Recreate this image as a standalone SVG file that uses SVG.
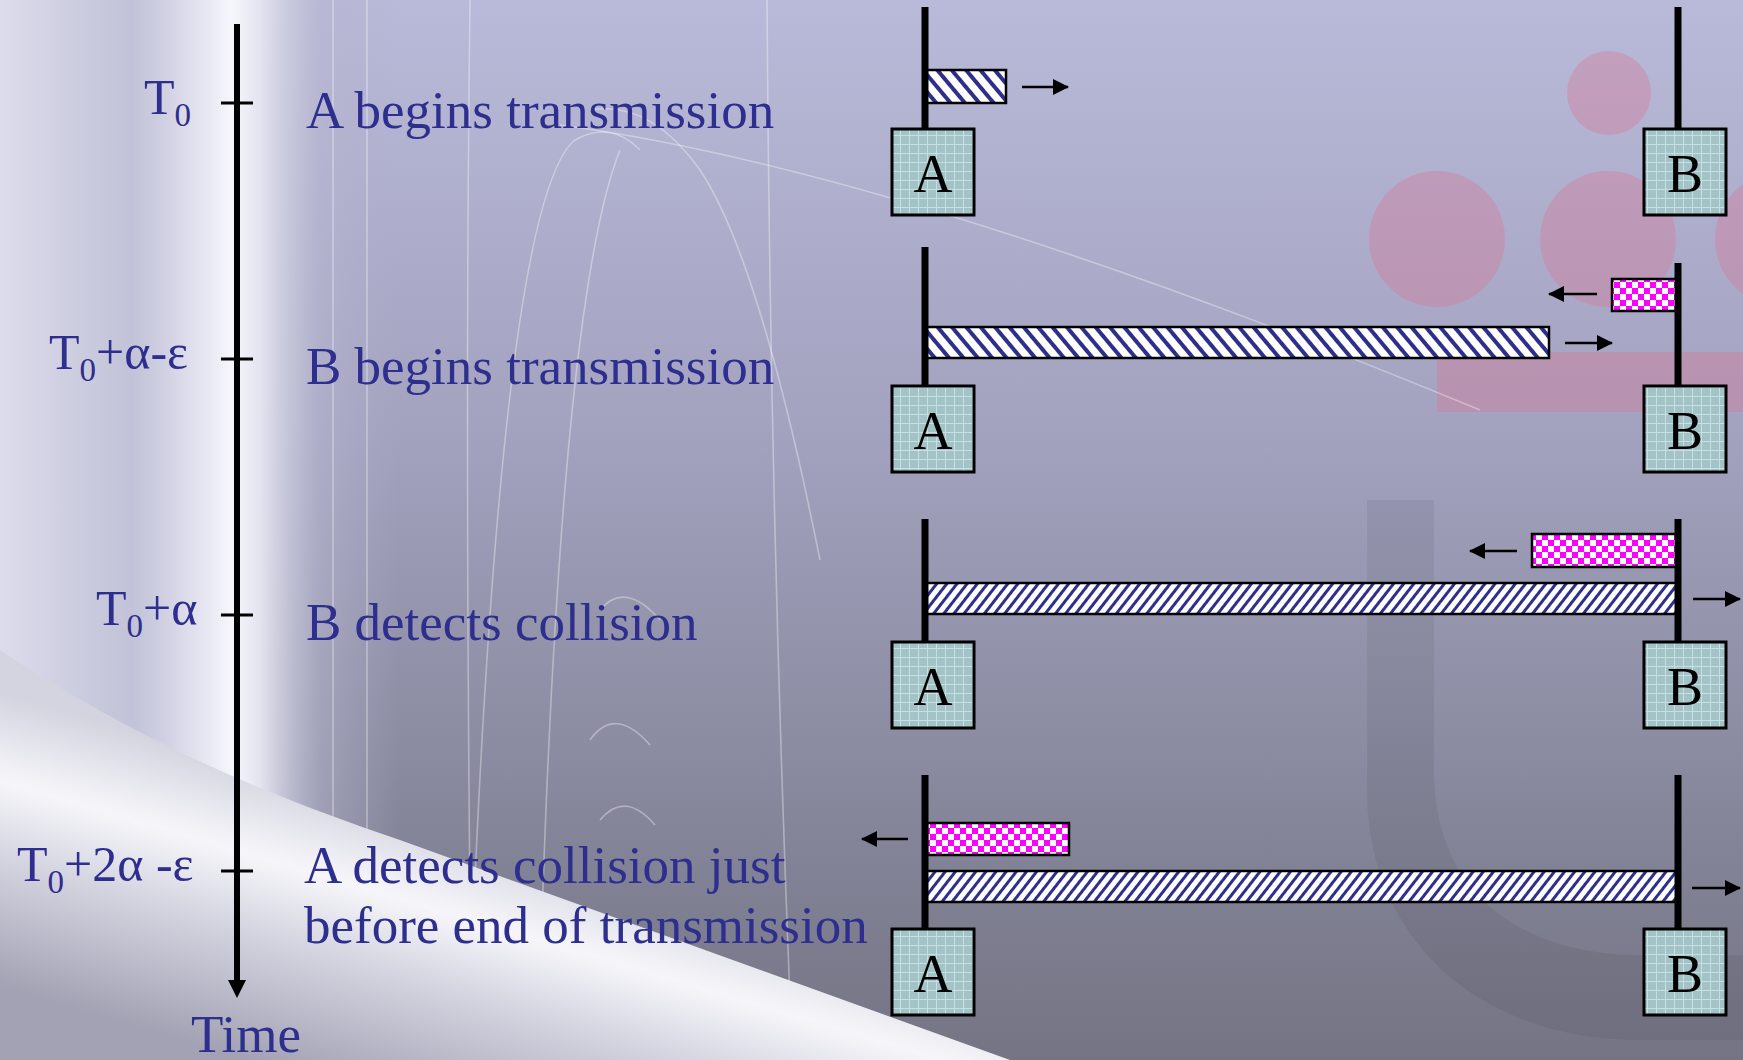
<svg xmlns="http://www.w3.org/2000/svg" width="1743" height="1060" viewBox="0 0 1743 1060">
<style>
.lbl{font-family:"Liberation Serif","Times New Roman",serif;fill:#2e2e8e;font-size:53px}
.tl{font-family:"Liberation Serif","Times New Roman",serif;fill:#2e2e8e;font-size:50px}
.st{font-family:"Liberation Serif","Times New Roman",serif;fill:#000;font-size:54px;text-anchor:middle}
.box{fill:url(#grid);stroke:#000;stroke-width:3}
.wire{stroke:#000;stroke-width:7}
.hatch1{fill:url(#hatchA);stroke:#000;stroke-width:2.5}
.hatch2{fill:url(#hatchB);stroke:#000;stroke-width:2.5}
.chk{fill:url(#checker);stroke:#000;stroke-width:2.5}
.arr{stroke:#000;stroke-width:2.5;fill:none;marker-end:url(#head)}
.tick{stroke:#000;stroke-width:3}
.fr{fill:none;stroke:#fff;stroke-opacity:0.35;stroke-width:1.6}
</style>
<defs>
<linearGradient id="bgV" x1="0" y1="0" x2="0" y2="1">
<stop offset="0" stop-color="#b9b9d9"/>
<stop offset="0.4" stop-color="#a3a3c0"/>
<stop offset="1" stop-color="#747484"/>
</linearGradient>
<linearGradient id="leftStrip" x1="0" y1="0" x2="400" y2="0" gradientUnits="userSpaceOnUse">
<stop offset="0" stop-color="#dcdcec"/>
<stop offset="0.33" stop-color="#c2c2d8"/>
<stop offset="0.42" stop-color="#d2d2e4"/>
<stop offset="0.58" stop-color="#f6f6fc"/>
<stop offset="0.65" stop-color="#e4e4f0"/>
<stop offset="0.8" stop-color="#b8b8d0" stop-opacity="0.5"/>
<stop offset="1" stop-color="#b0b0cc" stop-opacity="0"/>
</linearGradient>
<linearGradient id="swoosh" x1="330" y1="790" x2="250" y2="1060" gradientUnits="userSpaceOnUse">
<stop offset="0" stop-color="#d4d4e0"/>
<stop offset="0.3" stop-color="#f6f6fa"/>
<stop offset="0.55" stop-color="#d6d6e2"/>
<stop offset="1" stop-color="#a2a2b4"/>
</linearGradient>
<pattern id="hatchA" width="11" height="11" patternUnits="userSpaceOnUse" patternTransform="rotate(-40)">
<rect width="11" height="11" fill="#fff"/>
<rect width="4" height="11" fill="#2e2e8c"/>
</pattern>
<pattern id="hatchB" width="8" height="8" patternUnits="userSpaceOnUse" patternTransform="rotate(38)">
<rect width="8" height="8" fill="#fff"/>
<rect width="3" height="8" fill="#2e2e8c"/>
</pattern>
<pattern id="checker" width="12" height="12" patternUnits="userSpaceOnUse">
<rect width="12" height="12" fill="#fff"/>
<rect width="6" height="6" fill="#ff00ff"/>
<rect x="6" y="6" width="6" height="6" fill="#ff00ff"/>
</pattern>
<pattern id="grid" width="9" height="9" patternUnits="userSpaceOnUse">
<rect width="9" height="9" fill="#a3c3c7"/>
<path d="M0,0.5 H9 M0.5,0 V9" stroke="#c4e2e4" stroke-width="1"/>
</pattern>
<marker id="head" markerUnits="userSpaceOnUse" markerWidth="16" markerHeight="16" refX="15" refY="8" orient="auto">
<path d="M0,0 L16,8 L0,16 z" fill="#000"/>
</marker>
</defs>

<!-- background -->
<rect width="1743" height="1060" fill="url(#bgV)"/>
<rect width="400" height="1060" fill="url(#leftStrip)"/>
<g opacity="0.32" fill="#e0708e">
<circle cx="1609" cy="93" r="42"/>
<circle cx="1437" cy="239" r="68"/>
<circle cx="1608" cy="239" r="68"/>
<circle cx="1783" cy="239" r="68"/>
<rect x="1437" y="352" width="306" height="60"/>
</g>
<path d="M1367,500 L1434,500 L1434,770 C1434,900 1530,955 1640,955 L1743,955 L1743,1040 L1640,1040 C1480,1040 1367,940 1367,790 Z" fill="#000" opacity="0.06"/>
<g>
<path class="fr" d="M560,125 Q900,170 1480,410"/>
<path class="fr" d="M470,1000 Q500,200 575,140 Q610,120 640,150"/>
<path class="fr" d="M540,980 Q560,300 620,150"/>
<path class="fr" d="M590,110 Q650,100 700,170 Q760,260 820,560"/>
<path class="fr" d="M600,610 Q625,580 660,620"/>
<path class="fr" d="M590,740 Q615,705 650,745"/>
<path class="fr" d="M600,820 Q625,790 655,825"/>
<path class="fr" d="M333,0 V1000"/>
<path class="fr" d="M367,0 V980"/>
<path class="fr" d="M767,0 Q770,500 790,1000"/>
<path class="fr" d="M470,0 Q465,400 470,900"/>
</g>
<path d="M0,650 C120,730 250,790 400,840 L1010,1060 L0,1060 Z" fill="url(#swoosh)"/>

<!-- connectors -->
<g id="connectors">
<line x1="237" y1="24" x2="237" y2="982" stroke="#000" stroke-width="6"/>
<polygon points="228,980 246,980 237,998" fill="#000"/>
<line class="tick" x1="221" y1="103" x2="253" y2="103"/>
<line class="tick" x1="221" y1="359" x2="253" y2="359"/>
<line class="tick" x1="221" y1="615" x2="253" y2="615"/>
<line class="tick" x1="221" y1="871" x2="253" y2="871"/>
<line class="arr" x1="1022" y1="87" x2="1068" y2="87"/>
<line class="arr" x1="1565" y1="343" x2="1612" y2="343"/>
<line class="arr" x1="1597" y1="294" x2="1549" y2="294"/>
<line class="arr" x1="1517" y1="551" x2="1470" y2="551"/>
<line class="arr" x1="1693" y1="599" x2="1740" y2="599"/>
<line class="arr" x1="908" y1="839" x2="862" y2="839"/>
<line class="arr" x1="1692" y1="888" x2="1740" y2="888"/>
</g>

<!-- time labels -->
<g id="time-labels">
<text class="tl" x="144" y="114">T<tspan font-size="33" dy="12">0</tspan></text>
<text class="tl" x="49" y="369">T<tspan font-size="33" dy="12">0</tspan><tspan dy="-12">+α-ε</tspan></text>
<text class="tl" x="96" y="625">T<tspan font-size="33" dy="12">0</tspan><tspan dy="-12">+α</tspan></text>
<text class="tl" x="17" y="881">T<tspan font-size="33" dy="12">0</tspan><tspan dy="-12">+2α -ε</tspan></text>
<text class="lbl" x="191" y="1052">Time</text>
</g>

<!-- event labels -->
<g id="event-labels">
<text class="lbl" x="306" y="128">A begins transmission</text>
<text class="lbl" x="306" y="384">B begins transmission</text>
<text class="lbl" x="306" y="640">B detects collision</text>
<text class="lbl" x="304" y="883">A detects collision just</text>
<text class="lbl" x="304" y="943">before end of transmission</text>
</g>

<!-- panel 1 -->
<g id="panel1">
<rect class="hatch1" x="926" y="70" width="80" height="33"/>
<line class="wire" x1="925" y1="7" x2="925" y2="129"/>
<line class="wire" x1="1678" y1="7" x2="1678" y2="130"/>
<g id="p1-A"><rect class="box" x="892" y="129" width="82" height="86"/><text class="st" x="933" y="192">A</text></g>
<g id="p1-B"><rect class="box" x="1644" y="129" width="82" height="86"/><text class="st" x="1685" y="192">B</text></g>
</g>

<!-- panel 2 -->
<g id="panel2">
<rect class="hatch1" x="926" y="327" width="623" height="31"/>
<rect class="chk" x="1612" y="279" width="65" height="32"/>
<line class="wire" x1="925" y1="247" x2="925" y2="386"/>
<line class="wire" x1="1678" y1="263" x2="1678" y2="386"/>
<g id="p2-A"><rect class="box" x="892" y="386" width="82" height="86"/><text class="st" x="933" y="449">A</text></g>
<g id="p2-B"><rect class="box" x="1644" y="386" width="82" height="86"/><text class="st" x="1685" y="449">B</text></g>
</g>

<!-- panel 3 -->
<g id="panel3">
<rect class="hatch2" x="926" y="583" width="751" height="31"/>
<rect class="chk" x="1532" y="534" width="145" height="33"/>
<line class="wire" x1="925" y1="519" x2="925" y2="642"/>
<line class="wire" x1="1678" y1="519" x2="1678" y2="642"/>
<g id="p3-A"><rect class="box" x="892" y="642" width="82" height="86"/><text class="st" x="933" y="705">A</text></g>
<g id="p3-B"><rect class="box" x="1644" y="642" width="82" height="86"/><text class="st" x="1685" y="705">B</text></g>
</g>

<!-- panel 4 -->
<g id="panel4">
<rect class="hatch2" x="926" y="871" width="751" height="31"/>
<rect class="chk" x="927" y="823" width="142" height="32"/>
<line class="wire" x1="925" y1="775" x2="925" y2="929"/>
<line class="wire" x1="1678" y1="775" x2="1678" y2="929"/>
<g id="p4-A"><rect class="box" x="892" y="929" width="82" height="86"/><text class="st" x="933" y="992">A</text></g>
<g id="p4-B"><rect class="box" x="1644" y="929" width="82" height="86"/><text class="st" x="1685" y="992">B</text></g>
</g>
</svg>
